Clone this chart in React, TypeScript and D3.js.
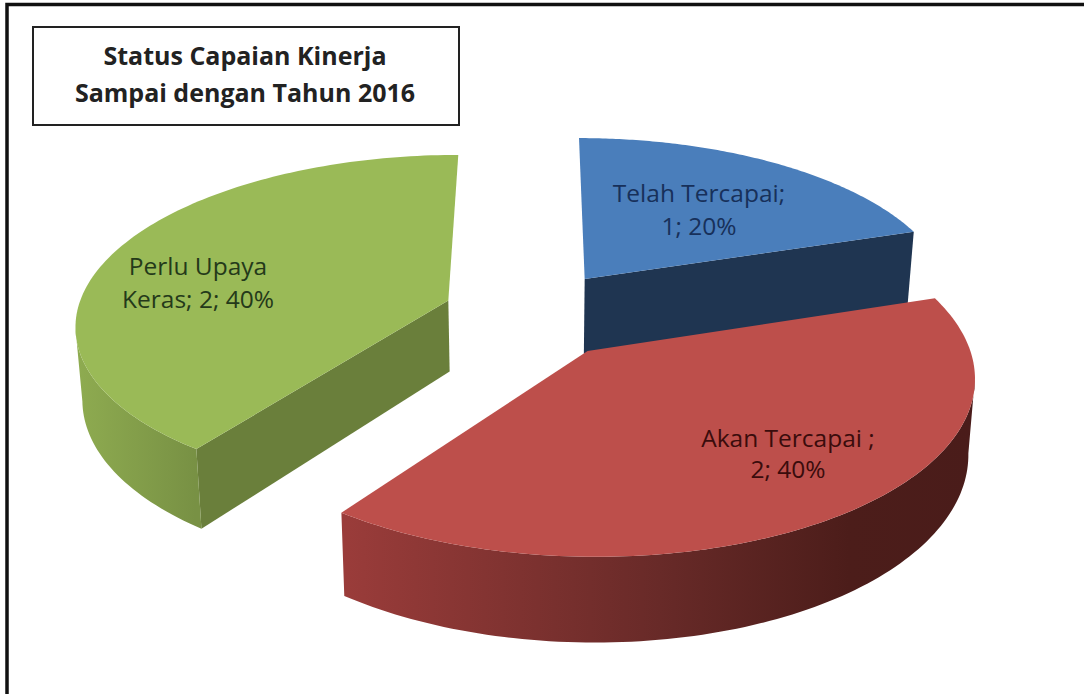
import React from 'react';
import * as d3 from 'd3';

const categories = ['Telah Tercapai', 'Akan Tercapai', 'Perlu Upaya Keras'];
const values = [1, 2, 2];
const titleLines = ['Status Capaian Kinerja', 'Sampai dengan Tahun 2016'];
const labelLines = [
  ['Telah Tercapai;', '1; 20%'],
  ['Akan Tercapai ;', '2; 40%'],
  ['Perlu Upaya', 'Keras; 2; 40%'],
];

const width = 1084;
const height = 694;
const fontFamily = '"Open Sans", "Noto Sans", sans-serif';

// camera for the tilted pie: unit circle on the ground plane -> screen
const center = { x: 534.7, y: 314 };
const radiusX = 372;
const radiusY = 168;
const perspective = 0.1316;
const explodeX = 0.235;
const explodeY = 0.265;
const depth = 72;
const bottomShrink = 0.015;

const project = (u: number, v: number, drop = 0): [number, number] => {
  const w = 1 - perspective * v;
  const shrink = 1 - (bottomShrink * drop) / depth;
  return [center.x + (radiusX * u * shrink) / w, center.y + (radiusY * v + drop) / w];
};

const line = d3.line();

const sliceStyles = [
  { top: '#4a7ebb', wall: '#1f3551', text: '#17305a', labelX: 699, labelY: [202, 235], wallDrop: depth + 5, explode: 1 },
  { top: '#bd4f4b', wall: 'url(#redWall)', text: '#3a0c0c', labelX: 788, labelY: [447, 478], wallDrop: depth, explode: 1 },
  { top: '#9aba57', wall: '#6a7f3b', text: '#24391a', labelX: 198, labelY: [275, 308], wallDrop: depth, explode: 1.05 },
];

const pieAngles = d3.pie<number>().sort(null)(values);

function Slice({ index }: { index: number }) {
  const arc = pieAngles[index];
  const style = sliceStyles[index];
  const mid = (arc.startAngle + arc.endAngle) / 2;
  const ox = explodeX * style.explode * Math.sin(mid);
  const oy = -explodeY * Math.cos(mid);
  const rim = (a: number, drop = 0) =>
    project(ox + Math.sin(a), oy - Math.cos(a), drop);
  const apex = (drop = 0) => project(ox, oy, drop);

  const angles = d3.range(0, 121).map(
    (i) => arc.startAngle + ((arc.endAngle - arc.startAngle) * i) / 120
  );
  const topFace = [apex(), ...angles.map((a) => rim(a))];

  // rim wall runs between the silhouette angles, where the rim is furthest out sideways
  const rimFrom = index === 1 ? d3.greatest(angles, (a) => rim(a)[0])! : arc.startAngle;
  const rimTo = index === 2 ? d3.least(angles, (a) => rim(a)[0])! : arc.endAngle;
  const rimAngles = angles.filter((a) => a >= rimFrom && a <= rimTo);
  const hasRim = index > 0;
  const drop = style.wallDrop;

  return (
    <g>
      {index === 0 && (
        <path
          d={line([apex(), rim(arc.endAngle), rim(arc.endAngle, drop), apex(drop)]) + 'Z'}
          fill={style.wall}
        />
      )}
      {index === 2 && (
        <path
          d={line([apex(), rim(arc.startAngle), rim(arc.startAngle, drop), apex(drop)]) + 'Z'}
          fill={style.wall}
        />
      )}
      {hasRim && (
        <path
          d={
            line([
              ...rimAngles.map((a) => rim(a)),
              ...rimAngles.slice().reverse().map((a) => rim(a, drop)),
            ]) + 'Z'
          }
          fill={index === 1 ? 'url(#redWall)' : 'url(#greenWall)'}
        />
      )}
      <path d={line(topFace) + 'Z'} fill={style.top} />
    </g>
  );
}

export default function App() {
  // blue and green sit behind the red slice
  const drawOrder = [2, 0, 1];
  return (
    <svg
      width={width}
      height={height}
      style={{ position: 'absolute', left: 0, top: 0, background: '#fff' }}
      aria-label={categories.join(', ')}
    >
      <defs>
        <linearGradient id="redWall" gradientUnits="userSpaceOnUse" x1={345} x2={975} y1={0} y2={0}>
          <stop offset="0" stopColor="#9a3c3a" />
          <stop offset="0.5" stopColor="#682a28" />
          <stop offset="0.8" stopColor="#4c1d1a" />
          <stop offset="1" stopColor="#4a1c1a" />
        </linearGradient>
        <linearGradient id="greenWall" gradientUnits="userSpaceOnUse" x1={78} x2={195} y1={0} y2={0}>
          <stop offset="0" stopColor="#8eab50" />
          <stop offset="1" stopColor="#789144" />
        </linearGradient>
      </defs>

      <path d="M7,694V4.5H1084" fill="none" stroke="#111" strokeWidth={3.5} />

      {drawOrder.map((i) => (
        <Slice key={categories[i]} index={i} />
      ))}

      <rect x={33} y={27} width={426} height={98} fill="#fff" stroke="#222" strokeWidth={2} />
      {titleLines.map((t, i) => (
        <text
          key={t}
          x={245}
          y={65 + i * 37}
          textAnchor="middle"
          fontFamily={fontFamily}
          fontWeight={700}
          fontSize={25}
          fill="#222"
        >
          {t}
        </text>
      ))}

      {labelLines.map((lines, s) =>
        lines.map((t, i) => (
          <text
            key={t}
            x={sliceStyles[s].labelX}
            y={sliceStyles[s].labelY[i]}
            textAnchor="middle"
            fontFamily={fontFamily}
            fontSize={24.5}
            fill={sliceStyles[s].text}
          >
            {t}
          </text>
        ))
      )}
    </svg>
  );
}
